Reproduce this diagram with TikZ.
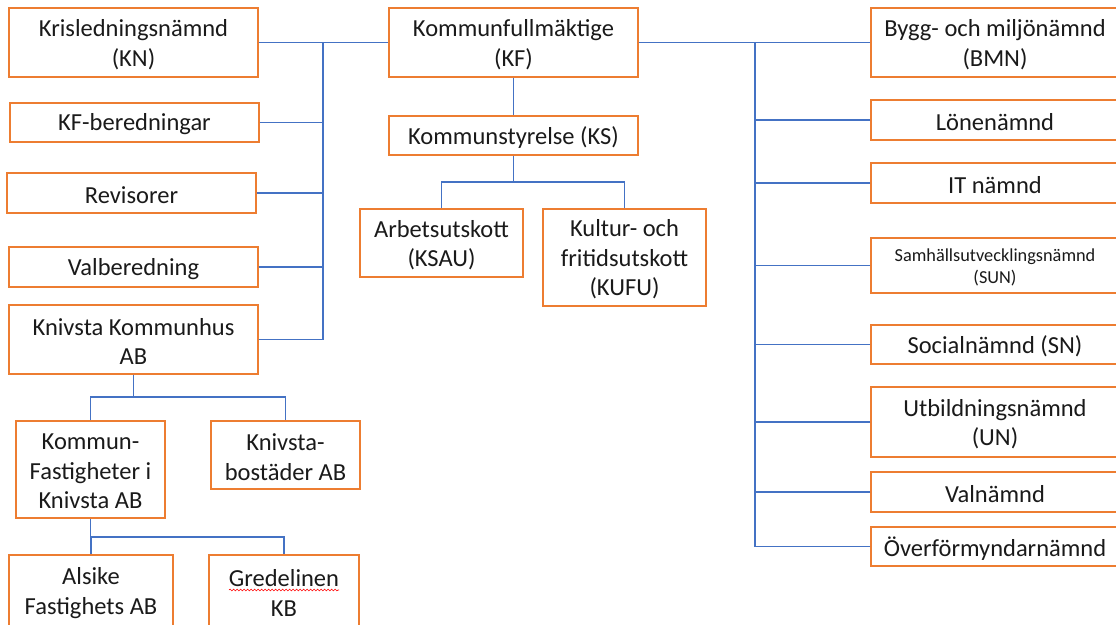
\documentclass[tikz,border=0pt]{standalone}
\usepackage{fontspec}
\setmainfont{Carlito}
\usetikzlibrary{decorations.pathmorphing}
\definecolor{boxor}{HTML}{ED7D31}
\definecolor{lineb}{HTML}{4472C4}
\definecolor{textc}{HTML}{1A1A1A}
\tikzset{
  box/.style={draw=boxor, line width=1.1pt, fill=white, inner sep=0pt},
  txt/.style={align=center, inner sep=0pt, font=\fontsize{24.5}{29.5}\selectfont, text=textc},
  smalltxt/.style={font=\fontsize{18.3}{22}\selectfont},
  conn/.style={draw=lineb, line width=1.3pt},
  trunk/.style={draw=lineb, line width=1.8pt},
}
% [text options]{name}{x}{y}{width}{height}{text}
\newcommand\orgbox[7][]{%
  \node[box, minimum width=#5, minimum height=#6] (#2) at (#3,#4) {};
  \node[txt, #1] (#2-t) at ([yshift=-2pt]#2.center) {#7};}
\begin{document}
\begin{tikzpicture}[x=1pt,y=-1pt]
\useasboundingbox (0,0) rectangle (1116,624);
% ---- connector coordinates
\coordinate (lt) at (323,42.5);
\coordinate (rt) at (755,42.5);
\coordinate (ksfork) at (513.5,182);
\coordinate (khfork) at (133.5,397);
\coordinate (kffork) at (90.5,537);
% ---- boxes
\orgbox{kn}{133.5}{42.5}{249}{69}{Krisledningsnämnd\\(KN)}
\orgbox{kfb}{134.5}{122.5}{249}{39}{KF-beredningar}
\orgbox{rev}{131.5}{193}{249}{40}{Revisorer}
\orgbox{valb}{133.5}{267}{249}{40}{Valberedning}
\orgbox{khus}{133.5}{339.5}{249}{69}{Knivsta Kommunhus\\AB}
\orgbox{kfast}{90.5}{469.5}{149}{97}{Kommun-\\Fastigheter i\\Knivsta AB}
\orgbox{kbost}{285.5}{455}{149}{68}{Knivsta-\\bostäder AB}
\orgbox{alsike}{91}{591}{164}{72}{Alsike\\Fastighets AB}
\orgbox{gred}{284}{591}{150}{72}{Gredelinen\\KB}
\orgbox{kf}{513.5}{42.5}{249}{69}{Kommunfullmäktige\\(KF)}
\orgbox{ks}{513.5}{135.5}{249}{39}{Kommunstyrelse (KS)}
\orgbox{ksau}{441.5}{243}{163}{68}{Arbetsutskott\\(KSAU)}
\orgbox{kufu}{624.5}{257.5}{163}{97}{Kultur- och\\fritidsutskott\\(KUFU)}
\orgbox{bmn}{995}{42.5}{248}{69}{Bygg- och miljönämnd\\(BMN)}
\orgbox{lon}{995}{120}{248}{40}{Lönenämnd}
\orgbox{it}{995}{183}{248}{40}{IT nämnd}
\orgbox[smalltxt]{sun}{995}{265.5}{248}{55}{Samhällsutvecklingsnämnd\\(SUN)}
\orgbox{sn}{995}{344.5}{248}{39}{Socialnämnd (SN)}
\orgbox{un}{995}{422}{248}{70}{Utbildningsnämnd\\(UN)}
\orgbox{valn}{995}{492}{248}{40}{Valnämnd}
\orgbox{ovf}{995}{546.5}{248}{39}{Överförmyndarnämnd}
% ---- connectors
\path[conn] (kn.east) -- (kf.west);
\path[conn] (kf.east) -- (bmn.west);
\path[trunk] (lt) -- (lt |- khus.east);
\foreach \n in {kfb,rev,valb,khus} \path[conn] (\n.east) -- (\n.east -| lt);
\path[trunk] (rt) -- (rt |- ovf.west);
\foreach \n in {lon,it,sun,sn,un,valn,ovf} \path[conn] (\n.west) -- (\n.west -| rt);
\path[conn] (kf.south) -- (ks.north);
\path[conn] (ks.south) -- (ksfork);
\path[conn] (ksau.north) |- (ksfork) -| (kufu.north);
\path[conn] (khus.south) -- (khfork);
\path[conn] (kfast.north) |- (khfork) -| (kbost.north);
\path[conn] (kfast.south) -- (kffork);
\path[conn] (alsike.north) |- (kffork) -| (gred.north);
% spell-check underline
\draw[red, line width=0.6pt, decorate, decoration={snake, amplitude=0.9pt, segment length=3.5pt}]
  ([shift={(-55,-1)}]gred.center) -- ([shift={(55,-1)}]gred.center);
\end{tikzpicture}
\end{document}
